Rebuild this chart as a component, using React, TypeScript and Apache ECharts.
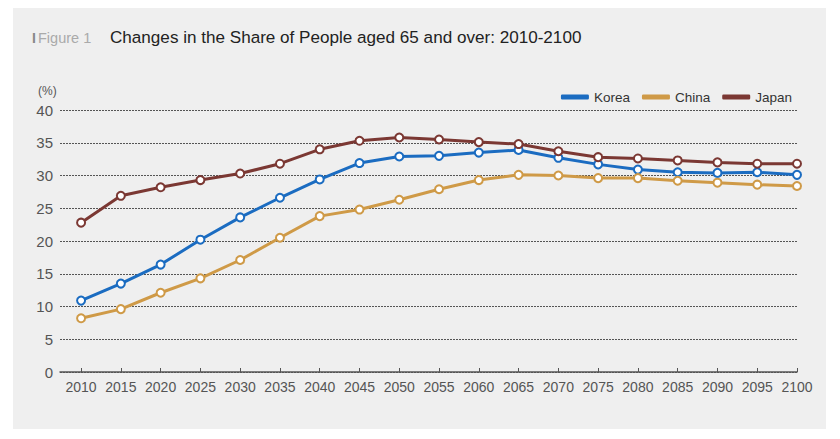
import React, { useEffect, useRef } from "react";
import * as echarts from "echarts";

const years = [2010, 2015, 2020, 2025, 2030, 2035, 2040, 2045, 2050, 2055, 2060, 2065, 2070, 2075, 2080, 2085, 2090, 2095, 2100];
const korea = [10.9, 13.5, 16.4, 20.2, 23.6, 26.6, 29.4, 31.9, 32.9, 33.0, 33.5, 33.9, 32.7, 31.7, 30.9, 30.5, 30.4, 30.5, 30.1];
const china = [8.2, 9.6, 12.1, 14.3, 17.1, 20.5, 23.8, 24.8, 26.3, 27.9, 29.3, 30.1, 30.0, 29.6, 29.6, 29.2, 28.9, 28.6, 28.4];
const japan = [22.8, 26.9, 28.2, 29.3, 30.3, 31.8, 34.0, 35.3, 35.8, 35.5, 35.1, 34.8, 33.7, 32.8, 32.6, 32.3, 32.0, 31.8, 31.8];
const seriesNames = ["Korea", "China", "Japan"];
const seriesColors = ["#1b6cc1", "#cf9a47", "#7b3833"];
const yMin = 0;
const yMax = 40;
const yStep = 5;
const titleLabel = "Figure 1";
const titleText = "Changes in the Share of People aged 65 and over: 2010-2100";
const unitText = "(%)";

const FONT = "'Liberation Sans', Arial, Helvetica, sans-serif";

export default function App() {
  const ref = useRef<HTMLDivElement>(null);
  useEffect(() => {
    if (!ref.current) return;
    const chart = echarts.init(ref.current, null, { renderer: "svg" });
    const data = [korea, china, japan];
    chart.setOption({
      animation: false,
      backgroundColor: "transparent",
      textStyle: { fontFamily: FONT },
      graphic: [
        { type: "text", left: 32, top: 31, style: { text: "I", fill: "#888", font: `bold 14px ${FONT}` } },
        { type: "text", left: 38, top: 30, style: { text: titleLabel, fill: "#aaa", font: `14.5px ${FONT}` } },
        { type: "text", left: 110, top: 29, style: { text: titleText, fill: "#222", font: `17.1px ${FONT}` } },
        { type: "text", left: 38, top: 85, style: { text: unitText, fill: "#555", font: `12px ${FONT}` } },
      ],
      legend: {
        right: 43,
        top: 85,
        icon: "roundRect",
        itemWidth: 28,
        itemHeight: 5,
        itemGap: 12,
        textStyle: { fontSize: 13.5, color: "#333", fontFamily: FONT },
        data: seriesNames.map((n, i) => ({ name: n, itemStyle: { color: seriesColors[i], borderWidth: 0 } })),
      },
      grid: { left: 60, right: 43, top: 110, bottom: 67 },
      xAxis: {
        type: "value",
        min: 2007.35,
        max: 2100,
        splitLine: { show: false },
        axisLine: { show: true, lineStyle: { color: "#555", width: 1.5 } },
        axisTick: { show: true, inside: true, length: 4, customValues: years, lineStyle: { color: "#555" } },
        axisLabel: {
          customValues: years,
          formatter: (v: number) => String(v),
          color: "#555",
          fontSize: 14,
          margin: 8,
          fontFamily: FONT,
        },
      },
      yAxis: {
        type: "value",
        min: yMin,
        max: yMax,
        interval: yStep,
        axisLine: { show: false },
        axisTick: { show: false },
        axisLabel: { color: "#555", fontSize: 15, margin: 7, fontFamily: FONT },
        splitLine: { show: true, lineStyle: { color: "#555", type: [2, 1], width: 1 } },
      },
      series: seriesNames.map((n, i) => ({
        name: n,
        type: "line",
        data: years.map((y, j) => [y, data[i][j]]),
        symbol: "circle",
        symbolSize: 8,
        lineStyle: { color: seriesColors[i], width: 3 },
        itemStyle: { color: "#fff", borderColor: seriesColors[i], borderWidth: 2 },
        z: 3 + i,
      })),
    });
    return () => chart.dispose();
  }, []);
  return (
    <div style={{ position: "fixed", left: 0, top: 0, width: 840, height: 439, background: "#fff" }}>
      <div style={{ position: "absolute", left: 13, top: 8, width: 813, height: 421, background: "#efefef" }} />
      <div ref={ref} style={{ position: "absolute", left: 0, top: 0, width: 840, height: 439 }} />
    </div>
  );
}
